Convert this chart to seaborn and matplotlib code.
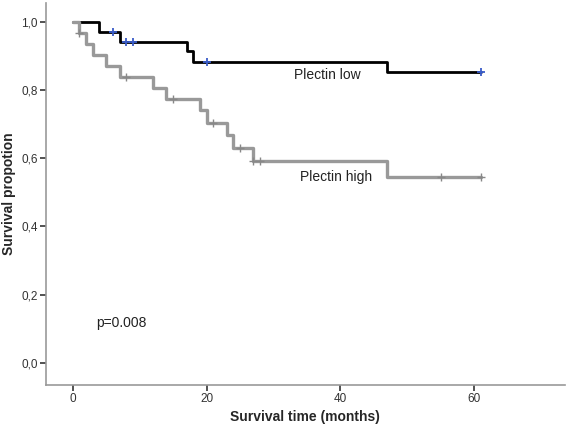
import pandas as pd
import matplotlib
matplotlib.use("Agg")
import matplotlib.pyplot as plt
import seaborn as sns

# Kaplan-Meier steps
low_time = [0, 4, 7, 17, 18, 47, 61]
low_surv = [1.0, 0.971, 0.942, 0.913, 0.883, 0.852, 0.852]
low_cens_time = [6, 8, 9, 20, 61]
low_cens_surv = [0.971, 0.942, 0.942, 0.883, 0.852]

high_time = [0, 1, 2, 3, 5, 7, 12, 14, 19, 20, 23, 24, 27, 47, 61]
high_surv = [1.0, 0.967, 0.935, 0.903, 0.871, 0.839, 0.806, 0.774, 0.742,
             0.703, 0.667, 0.630, 0.591, 0.545, 0.545]
high_cens_time = [1, 8, 15, 21, 25, 27, 28, 55, 61]
high_cens_surv = [0.967, 0.839, 0.774, 0.703, 0.630, 0.591, 0.591, 0.545, 0.545]

y_ticks = [0.0, 0.2, 0.4, 0.6, 0.8, 1.0]
y_labels = ["0,0", "0,2", "0,4", "0,6", "0,8", "1,0"]
x_ticks = [0, 20, 40, 60]

df_low = pd.DataFrame({"time": low_time, "surv": low_surv})
df_high = pd.DataFrame({"time": high_time, "surv": high_surv})
cens_low = pd.DataFrame({"time": low_cens_time, "surv": low_cens_surv})
cens_high = pd.DataFrame({"time": high_cens_time, "surv": high_cens_surv})

sns.set_style("white")
plt.rcParams["font.family"] = ["Liberation Sans", "DejaVu Sans"]

fig = plt.figure(figsize=(5.67, 4.24), dpi=100)
ax = fig.add_axes([0.081, 0.093, 0.915, 0.9])

sns.lineplot(data=df_low, x="time", y="surv", drawstyle="steps-post",
             estimator=None, color="black", linewidth=2, ax=ax)
sns.lineplot(data=df_high, x="time", y="surv", drawstyle="steps-post",
             estimator=None, color="#999999", linewidth=2.4, ax=ax)
sns.scatterplot(data=cens_low, x="time", y="surv", marker="+", s=40,
                color="#3a5cc8", linewidth=1.3, ax=ax, zorder=5)
sns.scatterplot(data=cens_high, x="time", y="surv", marker="+", s=40,
                color="#888888", linewidth=1.0, ax=ax, zorder=5)

ax.set_xlim(-4, 73.5)
ax.set_ylim(-0.064, 1.055)
ax.set_xticks(x_ticks)
ax.set_yticks(y_ticks)
ax.set_yticklabels(y_labels)
ax.tick_params(axis="both", direction="out", length=4, width=1.2,
               bottom=True, left=True,
               color="#333333", labelsize=8.5, labelcolor="#333333", pad=2)

for side in ["top", "right"]:
    ax.spines[side].set_visible(False)
for side in ["left", "bottom"]:
    ax.spines[side].set_color("#999999")
    ax.spines[side].set_linewidth(1.2)

ax.set_xlabel("Survival time (months)", fontsize=10, fontweight="bold", labelpad=4)
ax.set_ylabel("Survival propotion", fontsize=10, fontweight="bold", labelpad=4)

ax.text(33, 0.843, "Plectin low", fontsize=10, color="#222222", va="center")
ax.text(34, 0.545, "Plectin high", fontsize=10, color="#222222", va="center")
ax.text(3.5, 0.118, "p=0.008", fontsize=10, color="#222222", va="center")

fig.savefig("out.png", dpi=100)
